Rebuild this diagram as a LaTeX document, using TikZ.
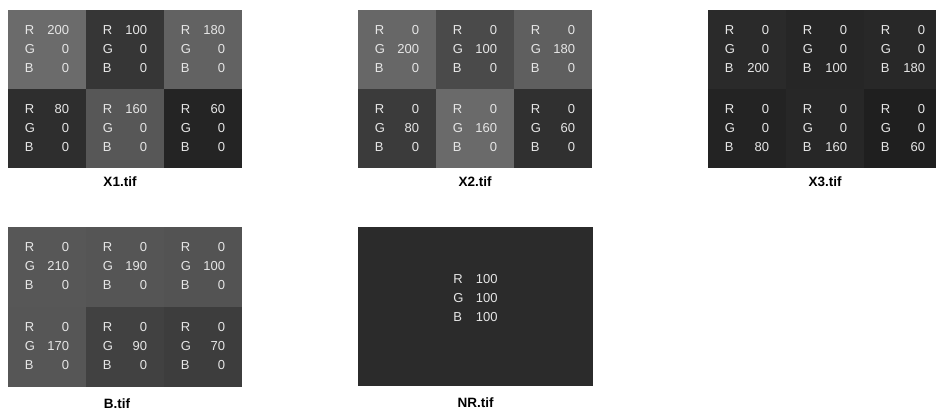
\documentclass[tikz,border=0pt]{standalone}
\usepackage{fontspec}
\setmainfont{Liberation Sans}
\usetikzlibrary{positioning}

% grey levels as the scan shows them
\definecolor{txt}{HTML}{E6E6E6}
\definecolor{ra}{HTML}{6B6B6B}\definecolor{rb}{HTML}{363636}\definecolor{rc}{HTML}{626262}
\definecolor{rd}{HTML}{2E2E2E}\definecolor{re}{HTML}{575757}\definecolor{rf}{HTML}{242424}
\definecolor{ga}{HTML}{676767}\definecolor{gb}{HTML}{4A4A4A}\definecolor{gc}{HTML}{5F5F5F}
\definecolor{gd}{HTML}{3B3B3B}\definecolor{ge}{HTML}{6A6A6A}\definecolor{gf}{HTML}{303030}
\definecolor{ba}{HTML}{2A2A2A}\definecolor{bb}{HTML}{262626}\definecolor{bc}{HTML}{282828}
\definecolor{bd}{HTML}{232323}\definecolor{be}{HTML}{272727}\definecolor{bf}{HTML}{1F1F1F}
\definecolor{ka}{HTML}{575757}\definecolor{kb}{HTML}{555555}\definecolor{kc}{HTML}{535353}
\definecolor{kd}{HTML}{565656}\definecolor{ke}{HTML}{414141}\definecolor{kf}{HTML}{3D3D3D}
\definecolor{nr}{HTML}{2B2B2B}

\newcommand{\rgbval}[3]{%
  \begin{tabular}{@{}l@{}r@{}}
    R&\makebox[34pt][r]{#1}\\
    G&\makebox[34pt][r]{#2}\\
    B&\makebox[34pt][r]{#3}
  \end{tabular}}

\begin{document}
\begin{tikzpicture}[
  x=1pt,y=-1pt,
  node distance=0pt,
  tile/.style={minimum width=78pt,minimum height=79pt,inner sep=0pt,outer sep=0pt,
    text=txt,font=\fontsize{13}{19}\selectfont},
  lbl/.style={font=\bfseries\fontsize{13.5}{15}\selectfont,inner sep=1pt}
]
  \useasboundingbox (0,0) rectangle (936,412);
  \clip (0,0) rectangle (936,412);

  % X1
  \node[tile,fill=ra,anchor=north west] (x1a) at (8,10) {\rgbval{200}{0}{0}};
  \node[tile,fill=rb,right=of x1a] (x1b) {\rgbval{100}{0}{0}};
  \node[tile,fill=rc,right=of x1b] (x1c) {\rgbval{180}{0}{0}};
  \node[tile,fill=rd,below=of x1a] (x1d) {\rgbval{80}{0}{0}};
  \node[tile,fill=re,right=of x1d] (x1e) {\rgbval{160}{0}{0}};
  \node[tile,fill=rf,right=of x1e] (x1f) {\rgbval{60}{0}{0}};
  \node[lbl,below=8pt of x1e,xshift=-5pt] (x1l) {X1.tif};

  % X2
  \node[tile,fill=ga,anchor=north west] (x2a) at (358,10) {\rgbval{0}{200}{0}};
  \node[tile,fill=gb,right=of x2a] (x2b) {\rgbval{0}{100}{0}};
  \node[tile,fill=gc,right=of x2b] (x2c) {\rgbval{0}{180}{0}};
  \node[tile,fill=gd,below=of x2a] (x2d) {\rgbval{0}{80}{0}};
  \node[tile,fill=ge,right=of x2d] (x2e) {\rgbval{0}{160}{0}};
  \node[tile,fill=gf,right=of x2e] (x2f) {\rgbval{0}{60}{0}};
  \node[lbl,below=8pt of x2e] (x2l) {X2.tif};

  % X3
  \node[tile,fill=ba,anchor=north west] (x3a) at (708,10) {\rgbval{0}{0}{200}};
  \node[tile,fill=bb,right=of x3a] (x3b) {\rgbval{0}{0}{100}};
  \node[tile,fill=bc,right=of x3b] (x3c) {\rgbval{0}{0}{180}};
  \node[tile,fill=bd,below=of x3a] (x3d) {\rgbval{0}{0}{80}};
  \node[tile,fill=be,right=of x3d] (x3e) {\rgbval{0}{0}{160}};
  \node[tile,fill=bf,right=of x3e] (x3f) {\rgbval{0}{0}{60}};
  \node[lbl,below=8pt of x3e] (x3l) {X3.tif};

  % B
  \node[tile,fill=ka,minimum height=80pt,anchor=north west] (ba) at (8,227) {\rgbval{0}{210}{0}};
  \node[tile,fill=kb,minimum height=80pt,right=of ba] (bb) {\rgbval{0}{190}{0}};
  \node[tile,fill=kc,minimum height=80pt,right=of bb] (bc) {\rgbval{0}{100}{0}};
  \node[tile,fill=kd,minimum height=80pt,below=of ba] (bd) {\rgbval{0}{170}{0}};
  \node[tile,fill=ke,minimum height=80pt,right=of bd] (be) {\rgbval{0}{90}{0}};
  \node[tile,fill=kf,minimum height=80pt,right=of be] (bf) {\rgbval{0}{70}{0}};
  \node[lbl,below=11pt of be,xshift=-8pt] (bl) {B.tif};

  % NR
  \node[tile,fill=nr,minimum width=235pt,minimum height=159pt,anchor=north west] (nr) at (358,227) {};
  \node[tile,minimum width=0pt,minimum height=0pt] (nrv) at ([yshift=8pt]nr.center) {\rgbval{100}{100}{100}};
  \node[lbl,below=11pt of nr] (nrl) {NR.tif};
\end{tikzpicture}
\end{document}
